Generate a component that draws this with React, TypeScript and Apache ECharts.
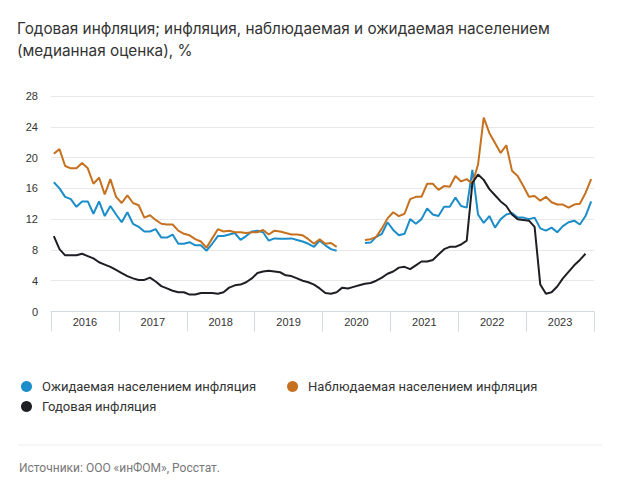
import React, { useEffect, useRef } from "react";
import * as echarts from "echarts";

const years = ["2016", "2017", "2018", "2019", "2020", "2021", "2022", "2023"];
const months: string[] = [];
years.forEach((y) => {
  for (let m = 1; m <= 12; m++) months.push(`${y}-${m < 10 ? "0" + m : m}`);
});

const expected = [
  16.8, 16.0, 14.9, 14.6, 13.6, 14.3, 14.3, 12.7, 14.3, 12.4, 13.7, 12.6,
  11.6, 12.9, 11.4, 11.0, 10.4, 10.4, 10.7, 9.6, 9.6, 10.0, 8.8, 8.8,
  9.0, 8.6, 8.6, 7.9, 8.8, 9.8, 9.8, 10.0, 10.2, 9.3, 9.8, 10.4,
  10.5, 10.3, 9.2, 9.5, 9.45, 9.45, 9.5, 9.3, 9.1, 8.8, 8.4, 9.2,
  8.6, 8.1, 7.9, null, null, null, null, 8.9, 8.95, 9.7, 10.1, 11.6,
  10.6, 9.9, 10.1, 12.0, 11.4, 12.0, 13.4, 12.6, 12.4, 13.6, 13.6, 14.8,
  13.7, 13.5, 18.4, 12.6, 11.5, 12.4, 10.9, 12.0, 12.6, 12.8, 12.2, 12.2,
  12.0, 12.2, 10.8, 10.5, 10.9, 10.3, 11.1, 11.6, 11.8, 11.3, 12.4, 14.3,
];

const observed = [
  20.5, 21.1, 18.9, 18.6, 18.6, 19.3, 18.6, 16.6, 17.4, 15.2, 17.2, 14.9,
  14.1, 15.1, 14.1, 13.8, 12.2, 12.5, 11.9, 11.4, 11.3, 11.3, 10.5, 10.1,
  9.9, 9.4, 9.1, 8.3, 9.5, 10.7, 10.4, 10.5, 10.3, 10.3, 10.2, 10.3,
  10.3, 10.6, 10.0, 10.5, 10.4, 10.2, 10.0, 10.0, 9.9, 9.4, 8.8, 9.4,
  8.8, 8.9, 8.4, null, null, null, null, 9.3, 9.4, 9.7, 10.8, 12.1,
  12.9, 12.4, 12.7, 14.6, 14.9, 14.9, 16.6, 16.6, 15.8, 16.3, 16.2, 17.6,
  16.9, 17.2, 16.6, 19.1, 25.2, 23.2, 21.9, 20.6, 21.6, 18.3, 17.6, 16.3,
  14.9, 15.0, 14.4, 14.9, 14.2, 13.9, 13.9, 13.5, 13.9, 14.0, 15.4, 17.2,
];

const annual = [
  9.8, 8.1, 7.3, 7.3, 7.3, 7.5, 7.2, 6.9, 6.4, 6.1, 5.8, 5.4,
  5.0, 4.6, 4.3, 4.1, 4.1, 4.4, 3.9, 3.3, 3.0, 2.7, 2.5, 2.5,
  2.2, 2.2, 2.4, 2.4, 2.4, 2.3, 2.5, 3.1, 3.4, 3.5, 3.8, 4.3,
  5.0, 5.2, 5.3, 5.2, 5.1, 4.7, 4.6, 4.3, 4.0, 3.8, 3.5, 3.0,
  2.4, 2.3, 2.5, 3.1, 3.0, 3.2, 3.4, 3.6, 3.7, 4.0, 4.4, 4.9,
  5.2, 5.7, 5.8, 5.5, 6.0, 6.5, 6.5, 6.7, 7.4, 8.1, 8.4, 8.4,
  8.7, 9.2, 16.7, 17.8, 17.1, 15.9, 15.1, 14.3, 13.7, 12.6, 12.0, 11.9,
  11.8, 11.0, 3.5, 2.3, 2.5, 3.25, 4.3, 5.15, 6.0, 6.7, 7.5, null,
];

const seriesNames = [
  "Ожидаемая населением инфляция",
  "Наблюдаемая населением инфляция",
  "Годовая инфляция",
];
const colors = ["#1b8dc8", "#c6711f", "#1e1f24"];

const titleText =
  "Годовая инфляция; инфляция, наблюдаемая и ожидаемая населением\n(медианная оценка), %";
const sourceText = "Источники: ООО «инФОМ», Росстат.";

export default function App() {
  const ref = useRef<HTMLDivElement>(null);
  useEffect(() => {
    if (!ref.current) return;
    const chart = echarts.init(ref.current, undefined, { renderer: "svg" });
    const axisColor = "#d3dae6";
    const legendText = {
      fontFamily: "Roboto",
      fontSize: 13,
      color: "#333",
      padding: [0, 0, 0, 5],
    };
    chart.setOption({
      animation: false,
      backgroundColor: "#ffffff",
      title: {
        text: titleText,
        left: 17,
        top: 17,
        padding: 0,
        textStyle: {
          fontFamily: "Inter",
          fontSize: 15.3,
          fontWeight: "normal",
          color: "#333",
          lineHeight: 22,
        },
      },
      legend: [
        {
          data: [seriesNames[0], seriesNames[1]],
          left: 21,
          top: 380,
          padding: 0,
          icon: "circle",
          itemWidth: 11,
          itemHeight: 11,
          itemGap: 31,
          textStyle: legendText,
        },
        {
          data: [seriesNames[2]],
          left: 21,
          top: 400,
          padding: 0,
          icon: "circle",
          itemWidth: 11,
          itemHeight: 11,
          textStyle: legendText,
        },
      ],
      grid: { left: 51, right: 26, top: 96, bottom: 170.5, containLabel: false },
      xAxis: [
        {
          type: "category",
          data: months,
          boundaryGap: true,
          show: false,
        },
        {
          type: "category",
          data: years,
          boundaryGap: true,
          position: "bottom",
          axisLine: { show: true, lineStyle: { color: axisColor, width: 1 } },
          axisTick: {
            show: true,
            length: 20,
            interval: 0,
            lineStyle: { color: axisColor, width: 1 },
          },
          axisLabel: {
            interval: 0,
            margin: 5,
            fontFamily: "Liberation Sans",
            fontSize: 11,
            color: "#333",
          },
          splitLine: { show: false },
        },
      ],
      yAxis: {
        type: "value",
        min: 0,
        max: 28,
        interval: 4,
        axisLine: { show: false },
        axisTick: { show: false },
        axisLabel: {
          margin: 13,
          fontFamily: "Liberation Sans",
          fontSize: 11,
          color: "#333",
        },
        splitLine: { lineStyle: { color: "#e8e8e8", width: 1 } },
      },
      series: [expected, observed, annual].map((d, i) => ({
        name: seriesNames[i],
        type: "line",
        xAxisIndex: 0,
        data: d,
        showSymbol: false,
        symbol: "circle",
        connectNulls: false,
        lineStyle: { color: colors[i], width: 2 },
        itemStyle: { color: colors[i] },
        z: i === 2 ? 3 : 2,
      })),
      graphic: [
        {
          type: "line",
          shape: { x1: 18, y1: 445, x2: 602, y2: 445 },
          style: { stroke: "#ececec", lineWidth: 1 },
        },
        {
          type: "text",
          x: 19,
          y: 468,
          style: {
            text: sourceText,
            fontFamily: "Roboto",
            fontSize: 12,
            fill: "#777",
            verticalAlign: "middle",
          },
        },
      ],
    });
    return () => chart.dispose();
  }, []);
  return (
    <div
      ref={ref}
      style={{ position: "absolute", left: 0, top: 0, width: 620, height: 482 }}
    />
  );
}
